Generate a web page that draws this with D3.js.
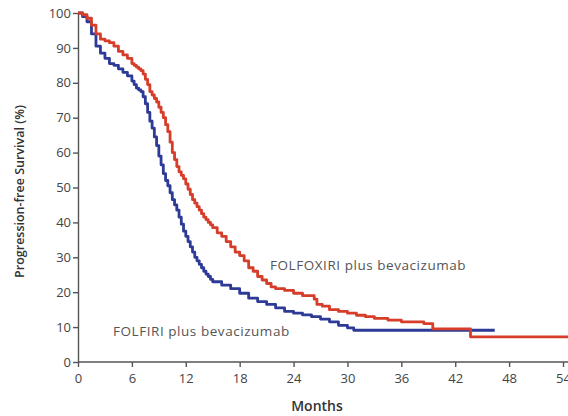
<!DOCTYPE html>
<html>
<head>
<meta charset="utf-8">
<script src="https://cdn.jsdelivr.net/npm/d3@7"></script>
<style>
  html, body { margin: 0; padding: 0; background: #fff; }
  svg { display: block; }
</style>
</head>
<body>
<svg id="chart" width="568" height="416"></svg>
<script>
// Kaplan–Meier progression-free survival, months vs. percent
const monthTicks = [0, 6, 12, 18, 24, 30, 36, 42, 48, 54];
const pctTicks = [0, 10, 20, 30, 40, 50, 60, 70, 80, 90, 100];

const folfoxiriMonths = [0, 0.5, 1, 1.5, 2, 2.5, 3, 3.5, 4, 4.5, 5, 5.5,
  6, 6.25, 6.5, 6.75, 7, 7.25, 7.5, 7.75, 8, 8.25, 8.5, 8.75, 9, 9.25, 9.5, 9.75,
  10, 10.25, 10.5, 10.75, 11, 11.25, 11.5, 11.75, 12, 12.25, 12.5, 12.75, 13, 13.25,
  13.5, 13.75, 14, 14.25, 14.5, 14.75, 15, 15.5, 16, 16.5, 17, 17.5, 18, 18.5, 19,
  19.5, 20, 20.5, 21, 21.5, 22, 23, 24, 25, 26.3, 26.6, 27.2, 28, 29, 30, 31, 32, 33,
  34.5, 36, 38.5, 39.5, 43.7, 55];
const folfoxiriPct = [100, 99.5, 98.5, 96.5, 94, 92.5, 92, 91.5, 90.5, 89, 88, 87,
  85.5, 85, 84.5, 84, 83.5, 82.5, 81, 79.5, 77.5, 76.5, 75.5, 74.5, 73, 71.5, 70, 68,
  66, 63, 60, 58, 56, 54.5, 53.5, 52.5, 51, 49.5, 48, 46.5, 45.5, 44.5,
  43.5, 42.5, 41.5, 40.8, 40, 39.3, 38.5, 37, 36, 34.5, 33, 31.5, 30.5, 29, 27,
  26, 24.5, 23.5, 22.5, 21.5, 21, 20.5, 19.7, 19, 18, 16.5, 16, 15, 14.5, 14, 13.4, 13, 12.5,
  12, 11.5, 11, 9.5, 7.2, 7.2];

const folfiriMonths = [0, 0.5, 1, 1.5, 2, 2.5, 3, 3.5, 4, 4.5, 5, 5.5,
  6, 6.25, 6.5, 6.75, 7, 7.25, 7.5, 7.75, 8, 8.25, 8.5, 8.75, 9, 9.25, 9.5, 9.75,
  10, 10.25, 10.5, 10.75, 11, 11.25, 11.5, 11.75, 12, 12.25, 12.5, 12.75, 13, 13.25,
  13.5, 13.75, 14, 14.25, 14.5, 14.75, 15, 16, 17, 18, 19, 20, 21, 22, 23, 24, 25, 26,
  27, 28, 29, 30, 30.7, 46.4];
const folfiriPct = [100, 99, 97.5, 94, 90.5, 88.5, 87, 85.5, 85, 84, 83, 82,
  80.5, 79.5, 78.5, 78, 77.5, 76, 74, 71.5, 69, 67, 64.5, 62, 59, 56.5, 54, 52,
  50.5, 48.5, 46.5, 45, 43.5, 41.5, 39.5, 37.5, 36, 34.5, 33, 31.5, 30, 29,
  28, 27, 26, 25.2, 24.5, 23.7, 23, 22, 21, 19.7, 18.3, 17.3, 16.5, 15.5, 14.5, 14, 13.5, 13,
  12.3, 11.5, 10.5, 9.8, 9.1, 9.1];

const seriesNames = ["FOLFOXIRI plus bevacizumab", "FOLFIRI plus bevacizumab"];
const seriesColors = ["#d63d2a", "#2d3b96"];

const svg = d3.select("#chart");
const x = d3.scaleLinear().domain([0, 54]).range([78, 563]);
const y = d3.scaleLinear().domain([0, 100]).range([362, 13]);

const font = "'Open Sans', 'Noto Sans', sans-serif";
const axisColor = "#555";

const line = d3.line()
  .x(d => x(d[0]))
  .y(d => y(d[1]))
  .curve(d3.curveStepAfter);

const curves = [
  d3.zip(folfoxiriMonths, folfoxiriPct),
  d3.zip(folfiriMonths, folfiriPct)
];

// x axis (line runs to the right edge)
const xAxis = svg.append("g")
  .attr("transform", `translate(0,${y(0)})`)
  .call(d3.axisBottom(x).tickValues(monthTicks).tickSize(5).tickSizeOuter(0));
xAxis.select(".domain").attr("d", `M${x(0)},0H568`);

// y axis
const yAxis = svg.append("g")
  .attr("transform", `translate(${x(0)},0)`)
  .call(d3.axisLeft(y).tickValues(pctTicks).tickSize(5).tickSizeOuter(0));

[xAxis, yAxis].forEach(g => {
  g.select(".domain").attr("stroke", axisColor).attr("stroke-width", 1.4);
  g.selectAll(".tick line").attr("stroke", axisColor).attr("stroke-width", 1.4);
  g.selectAll(".tick text")
    .attr("fill", "#444")
    .style("font-family", font)
    .style("font-size", "13px");
});
xAxis.selectAll(".tick text").attr("dy", "1.0em");
yAxis.selectAll(".tick text").attr("x", -7);

// survival curves, blue first so red sits on top
svg.append("g").selectAll("path")
  .data(curves.slice().reverse())
  .join("path")
  .attr("d", line)
  .attr("fill", "none")
  .attr("stroke", (d, i) => seriesColors[1 - i])
  .attr("stroke-width", 2.8)
  .attr("stroke-linejoin", "round");

// axis titles
svg.append("text")
  .attr("x", 317).attr("y", 411)
  .attr("text-anchor", "middle")
  .attr("fill", "#333")
  .style("font-family", font)
  .style("font-size", "14px")
  .style("font-weight", "600")
  .text("Months");

svg.append("text")
  .attr("transform", `translate(24,${(y(0) + y(100)) / 2 + 4}) rotate(-90)`)
  .attr("text-anchor", "middle")
  .attr("fill", "#333")
  .style("font-family", font)
  .style("font-size", "12.5px")
  .style("font-weight", "600")
  .text("Progression-free Survival (%)");

// series labels
const labelStyle = sel => sel
  .attr("fill", "#555")
  .style("font-family", font)
  .style("font-size", "13.5px")
  .style("letter-spacing", "0.55px");

svg.append("text")
  .attr("x", 270).attr("y", 270)
  .call(labelStyle)
  .text(seriesNames[0]);

svg.append("text")
  .attr("x", 113).attr("y", 336)
  .call(labelStyle)
  .text(seriesNames[1]);
</script>
</body>
</html>
